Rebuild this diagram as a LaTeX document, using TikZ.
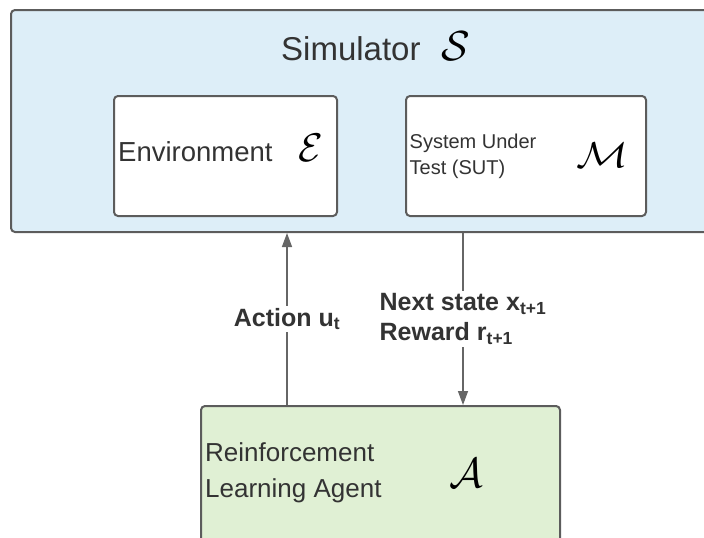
\RequirePackage{fix-cm}
\documentclass[tikz,border=0pt]{standalone}
\usepackage{fontspec}
\setmainfont{Liberation Sans}
\usetikzlibrary{arrows.meta}
\definecolor{simfill}{HTML}{DDEEF8}
\definecolor{agentfill}{HTML}{E0F0D4}
\definecolor{edgegray}{HTML}{5C5C5C}
\definecolor{arrowgray}{HTML}{666666}
\definecolor{ink}{HTML}{333333}
\tikzset{
  panel/.style={draw=edgegray, line width=2pt, rounded corners=4pt,
    inner sep=0pt, anchor=north west},
  txt/.style={inner sep=0pt, anchor=base west, text=ink},
  sym/.style={inner sep=0pt, anchor=base west, text=black},
  flow/.style={draw=arrowgray, line width=1.4pt,
    -{Triangle[length=14pt,width=10pt]}},
  tag/.style={fill=white, inner sep=2pt, text=ink, align=left,
    font=\bfseries\fontsize{25}{30}\selectfont}
}
\begin{document}
\begin{tikzpicture}[x=1pt,y=-1pt]
\useasboundingbox (0,0) rectangle (704,538);
\clip (0,0) rectangle (704,538);

% simulator frame and the two blocks inside it
\node[panel, fill=simfill, minimum width=712pt, minimum height=222pt] (sim) at (10,9) {};
\node[panel, fill=white, minimum width=223pt, minimum height=120pt] (env) at (113,95) {};
\node[panel, fill=white, minimum width=240pt, minimum height=120pt] (sut) at (405,95) {};

% agent block
\node[panel, fill=agentfill, minimum width=359pt, minimum height=150pt] (agent) at (200,405) {};

% titles (multi-line nodes are placed by the baseline of their last line)
\node[txt, font=\fontsize{33}{40}\selectfont] (simtitle) at (281,60) {Simulator};
\node[sym, font=\fontsize{42}{42}\selectfont] (simsym) at (441,60) {$\mathcal{S}$};

\node[txt, font=\fontsize{27.5}{33}\selectfont] (envtitle) at (118,161) {Environment};
\node[sym, font=\fontsize{40}{40}\selectfont] (envsym) at (298,161) {$\mathcal{E}$};

\node[txt, font=\fontsize{20}{26}\selectfont, align=left] (suttitle) at (409.5,174) {System Under\\Test (SUT)};
\node[sym, font=\fontsize{36}{36}\selectfont, xscale=1.2] (sutsym) at (576,167) {$\mathcal{M}$};

\node[txt, font=\fontsize{26}{36}\selectfont, align=left] (agenttitle) at (205,497) {Reinforcement\\Learning Agent};
\node[sym, font=\fontsize{42}{42}\selectfont] (agentsym) at (449,487) {$\mathcal{A}$};

% connectors
\coordinate (actx) at (287,0);
\coordinate (obsx) at (463,0);
\draw[flow] (agent.north -| actx) -- node[tag] (actlabel) {Action u\textsubscript{t}} (sim.south -| actx);
\draw[flow] (sim.south -| obsx) -- node[tag] (obslabel) {Next state x\textsubscript{t+1}\\Reward r\textsubscript{t+1}} (agent.north -| obsx);
\end{tikzpicture}
\end{document}
